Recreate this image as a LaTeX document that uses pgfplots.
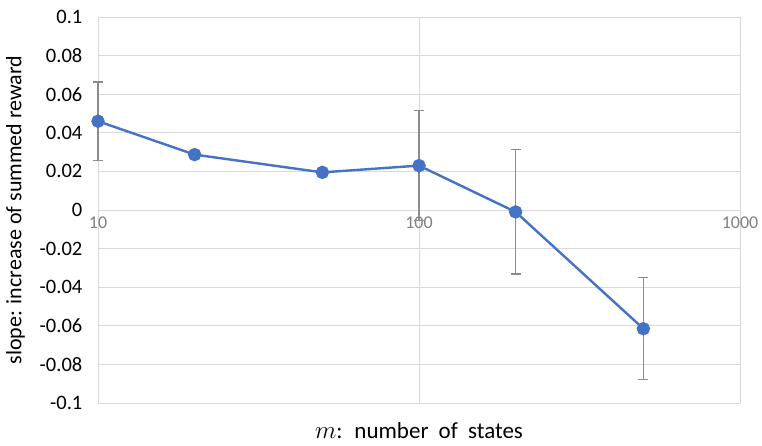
\documentclass[border=0pt]{standalone}
\usepackage{pgfplots}
\pgfplotsset{compat=1.18}
\usetikzlibrary{calc}
\usepackage{fontspec}
\setmainfont{Carlito}
\definecolor{exblue}{HTML}{4472C4}
\definecolor{errgray}{HTML}{8C8C8C}
\definecolor{gridgray}{HTML}{D9D9D9}
\begin{document}
\begin{tikzpicture}
\begin{axis}[
  name=ax,
  scale only axis,
  width=642pt, height=386pt,
  xmode=log,
  xmin=10, xmax=1000,
  ymin=-0.1, ymax=0.1,
  ytick={-0.1,-0.08,...,0.1},
  xtick={10,100,1000},
  xticklabels={10,100,1000},
  minor xtick={},
  hide obscured x ticks=false,
  hide obscured y ticks=false,
  axis x line=middle,
  axis y line=left,
  axis line style={draw=gridgray, line width=0.8pt, -},
  grid=major,
  major grid style={draw=gridgray, line width=0.8pt},
  tick style={draw=none},
  /pgf/number format/assume math mode=true,
  yticklabel style={font=\fontsize{20.5}{22}\selectfont, black, xshift=-10pt},
  yticklabel={\pgfmathprintnumber[fixed,precision=2]{\tick}},
  xticklabel style={font=\fontsize{18}{20}\selectfont, text=gray, anchor=north, yshift=-1pt},
  ylabel={slope: increase of summed reward},
  ylabel style={font=\fontsize{22}{24}\selectfont, at={(axis description cs:0,0.5)}, anchor=north, inner sep=1pt, yshift=93pt},
  xlabel={$m$:\hspace{5pt} number\hspace{5pt} of\hspace{5pt} states},
  xlabel style={font=\fontsize{23}{25}\selectfont, at={(axis description cs:0.5,0)}, anchor=north, inner sep=1pt, yshift=-18pt},
  clip=false,
]
\addplot[color=exblue, line width=2.4pt, mark=*, mark size=5.5pt,
  mark options={fill=exblue, draw=exblue},
  error bars/.cd, y dir=both, y explicit,
  error bar style={errgray, line width=1.3pt},
  error mark options={rotate=90, errgray, mark size=5pt, line width=1.3pt}]
coordinates {
  (10, 0.0460) +- (0, 0.0203)
  (20, 0.0287) +- (0, 0.0020)
  (50, 0.0195) +- (0, 0.0010)
  (100, 0.0230) +- (0, 0.0286)
  (200, -0.0010) +- (0, 0.0322)
  (500, -0.0615) +- (0, 0.0265)
};
\end{axis}
\pgfresetboundingbox
\useasboundingbox ($(ax.south west)+(-98pt,-42pt)$) rectangle ($(ax.north east)+(22pt,17pt)$);
\end{tikzpicture}
\end{document}
